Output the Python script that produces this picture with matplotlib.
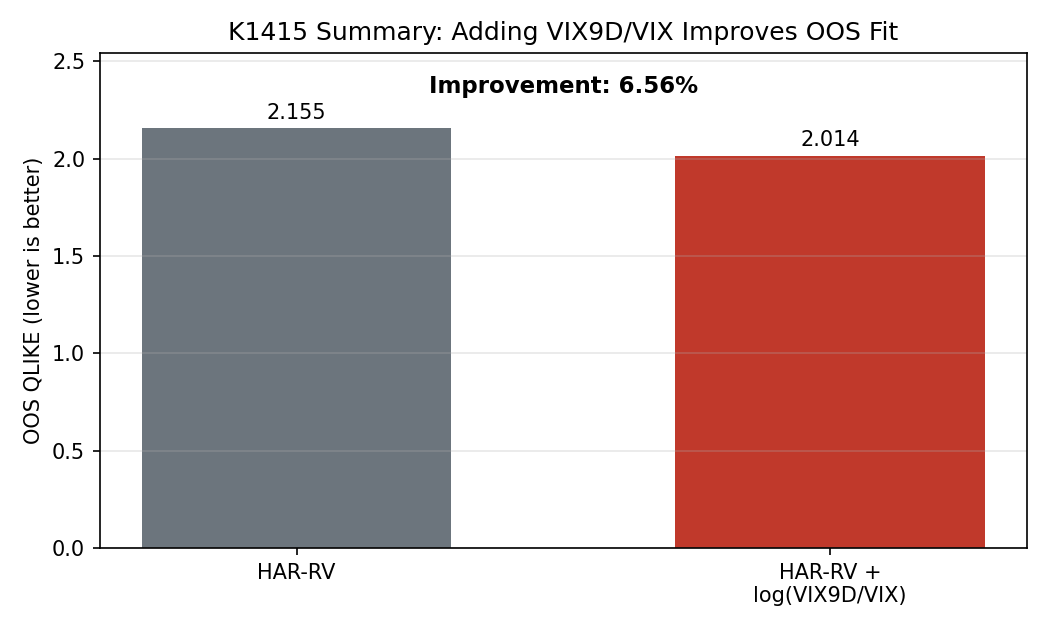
import matplotlib
matplotlib.use("Agg")
import matplotlib.pyplot as plt

models = ["HAR-RV", "HAR-RV +\nlog(VIX9D/VIX)"]
qlike = [2.155, 2.014]
colors = ["#6c757d", "#c0392b"]
improvement = 6.56

fig, ax = plt.subplots(figsize=(7, 4.2), dpi=150)
fig.subplots_adjust(left=0.095, right=0.978, top=0.916, bottom=0.130)

x = range(len(models))
bars = ax.bar(x, qlike, width=0.58, color=colors)
for b, v in zip(bars, qlike):
    ax.text(b.get_x() + b.get_width() / 2, v + 0.03, f"{v:.3f}",
            ha="center", va="bottom", fontsize=10)

ax.set_xticks(list(x))
ax.set_xticklabels(models)
ax.set_ylim(0, max(qlike) * 1.18)
ax.set_ylabel("OOS QLIKE (lower is better)")
ax.set_title("K1415 Summary: Adding VIX9D/VIX Improves OOS Fit", fontsize=12)
ax.grid(axis="y", alpha=0.3)
ax.text(0.5, max(qlike) * 1.1, f"Improvement: {improvement:.2f}%",
        ha="center", va="center", fontsize=11, fontweight="bold")

fig.savefig("out.png", dpi=150)
